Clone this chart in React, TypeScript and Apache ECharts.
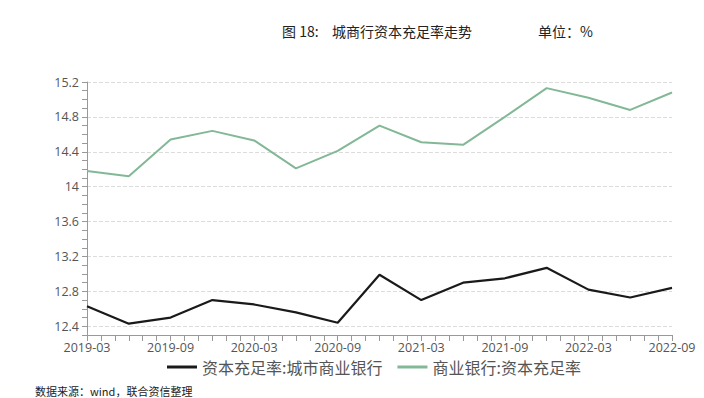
import React, { useEffect, useRef } from "react";
import * as echarts from "echarts";

// Quarter-end dates of the data points
const quarters = [
  "2019-03", "2019-06", "2019-09", "2019-12",
  "2020-03", "2020-06", "2020-09", "2020-12",
  "2021-03", "2021-06", "2021-09", "2021-12",
  "2022-03", "2022-06", "2022-09",
];

// 资本充足率:城市商业银行 (%)
const cityBankCAR = [
  12.63, 12.43, 12.5, 12.7, 12.65, 12.56, 12.44, 12.99,
  12.7, 12.9, 12.95, 13.07, 12.82, 12.73, 12.84,
];

// 商业银行:资本充足率 (%)
const commercialBankCAR = [
  14.18, 14.12, 14.54, 14.64, 14.53, 14.21, 14.41, 14.7,
  14.51, 14.48, 14.8, 15.13, 15.02, 14.88, 15.08,
];

const seriesNames = ["资本充足率:城市商业银行", "商业银行:资本充足率"];

// monthly axis categories from 2019-03 to 2022-09
const axisYears = [2019, 2020, 2021, 2022];
const monthCategories: string[] = [];
axisYears.forEach((y) => {
  for (let m = 1; m <= 12; m++) {
    const label = `${y}-${m < 10 ? "0" + m : m}`;
    if (label >= "2019-03" && label <= "2022-09") monthCategories.push(label);
  }
});

const yMin = 12.3;
const yMax = 15.2;

export default function App() {
  const ref = useRef<HTMLDivElement>(null);
  useEffect(() => {
    if (!ref.current) return;
    const chart = echarts.init(ref.current, null, { renderer: "svg" });
    const axisFont = "'Open Sans', 'Noto Sans', sans-serif";
    chart.setOption({
      animation: false,
      backgroundColor: "#ffffff",
      grid: { left: 87, right: 32, top: 82, bottom: 63, containLabel: false },
      graphic: [
        {
          type: "text",
          left: 282,
          top: 24,
          style: { text: "图 18:", font: "14px 'Noto Sans CJK SC', serif", fill: "#222" },
        },
        {
          type: "text",
          left: 332,
          top: 24,
          style: { text: "城商行资本充足率走势", font: "14px 'Noto Sans CJK SC', serif", fill: "#222" },
        },
        {
          type: "text",
          left: 538,
          top: 24,
          style: { text: "单位：%", font: "14px 'Noto Sans CJK SC', serif", fill: "#222" },
        },
        {
          type: "text",
          left: 35,
          top: 385,
          style: { text: "数据来源：wind，联合资信整理", font: "11px 'Noto Sans CJK SC', serif", fill: "#222" },
        },
      ],
      legend: {
        bottom: 18,
        left: 162,
        icon: "rect",
        itemWidth: 30,
        itemHeight: 3,
        itemGap: 15,
        textStyle: { fontSize: 16, color: "#555", fontFamily: "'Noto Sans CJK SC', sans-serif" },
        data: seriesNames,
      },
      xAxis: {
        type: "category",
        data: monthCategories,
        boundaryGap: false,
        axisLine: { lineStyle: { color: "#999", width: 1 } },
        axisTick: { show: true, interval: 0, length: 6, lineStyle: { color: "#999" } },
        axisLabel: { interval: 5, color: "#555", fontSize: 12.5, fontFamily: axisFont, margin: 6 },
        splitLine: { show: false },
      },
      yAxis: {
        type: "value",
        min: yMin,
        max: yMax,
        interval: 0.1,
        axisLine: { show: true, lineStyle: { color: "#999", width: 1 } },
        axisTick: { show: true, length: 5, lineStyle: { color: "#999" } },
        axisLabel: {
          color: "#555",
          fontSize: 12.5,
          fontFamily: axisFont,
          margin: 8,
          formatter: (v: number) => {
            const k = Math.round(v * 10);
            return k % 4 === 0 ? String(k / 10) : "";
          },
        },
        splitLine: {
          show: true,
          lineStyle: {
            color: ["rgba(0,0,0,0)", "#dcdcdc", "rgba(0,0,0,0)", "rgba(0,0,0,0)"],
            type: "dashed",
            width: 1,
          },
        },
      },
      series: [
        {
          name: seriesNames[0],
          type: "line",
          symbol: "none",
          connectNulls: true,
          data: quarters.map((q, i) => [q, cityBankCAR[i]]),
          lineStyle: { color: "#1a1a1a", width: 2.2 },
          itemStyle: { color: "#1a1a1a" },
        },
        {
          name: seriesNames[1],
          type: "line",
          symbol: "none",
          connectNulls: true,
          data: quarters.map((q, i) => [q, commercialBankCAR[i]]),
          lineStyle: { color: "#82b896", width: 2 },
          itemStyle: { color: "#82b896" },
        },
      ],
    });
    return () => chart.dispose();
  }, []);
  return <div ref={ref} style={{ width: 704, height: 398, position: "absolute", left: 0, top: 0 }} />;
}
